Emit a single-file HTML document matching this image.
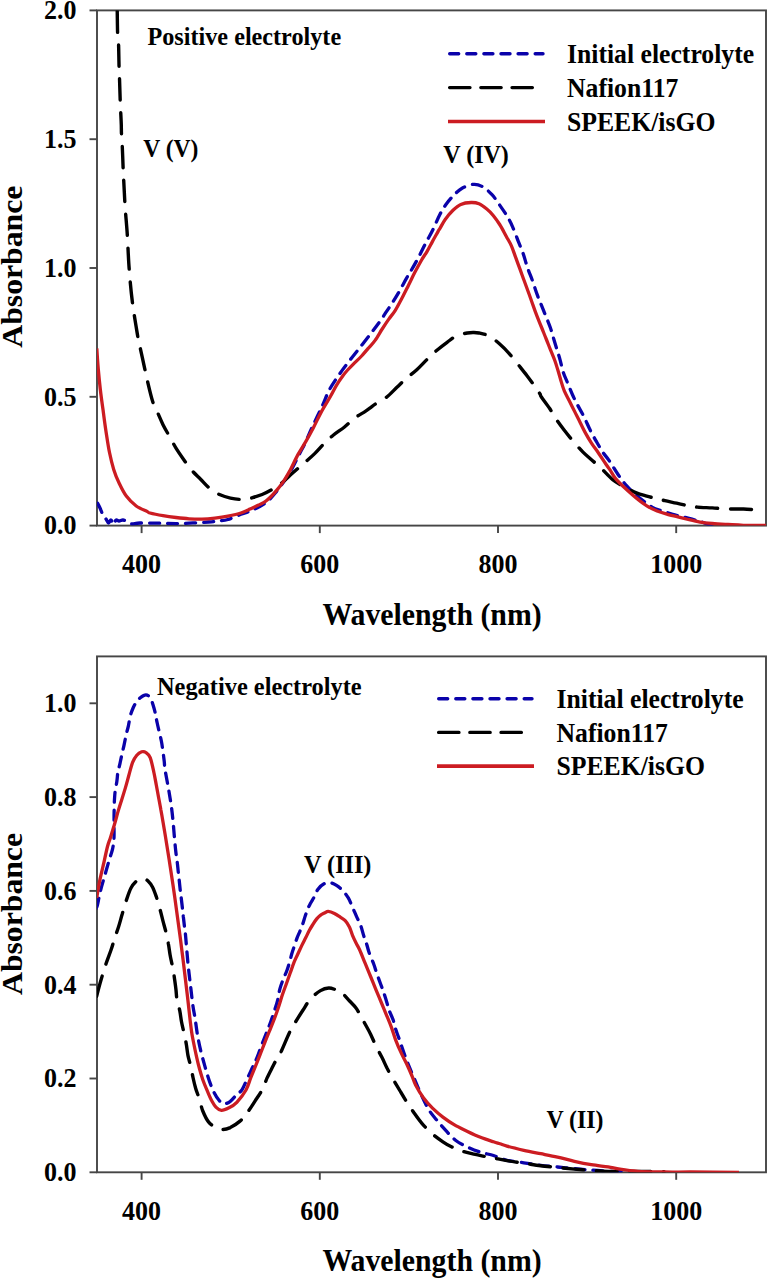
<!DOCTYPE html>
<html><head><meta charset="utf-8"><style>
html,body{margin:0;padding:0;background:#fff;}
svg{display:block;}
text{font-family:"Liberation Serif",serif;font-weight:bold;fill:#000;}
</style></head><body>
<svg width="770" height="1280" viewBox="0 0 770 1280">
<rect width="770" height="1280" fill="#fff"/>
<defs>
<clipPath id="ct"><rect x="97" y="10.4" width="669" height="515.2"/></clipPath>
<clipPath id="cb"><rect x="97" y="656.4" width="669" height="515.9"/></clipPath>
</defs>

<rect x="97" y="10.4" width="669" height="515.2" fill="none" stroke="#464646" stroke-width="1.9"/>
<line x1="89.5" x2="97" y1="525.6" y2="525.6" stroke="#464646" stroke-width="1.9"/>
<text transform="translate(76.5 534.4) scale(1 1.060)" font-size="26" text-anchor="end">0.0</text>
<line x1="89.5" x2="97" y1="396.8" y2="396.8" stroke="#464646" stroke-width="1.9"/>
<text transform="translate(76.5 405.6) scale(1 1.060)" font-size="26" text-anchor="end">0.5</text>
<line x1="89.5" x2="97" y1="268.0" y2="268.0" stroke="#464646" stroke-width="1.9"/>
<text transform="translate(76.5 276.8) scale(1 1.060)" font-size="26" text-anchor="end">1.0</text>
<line x1="89.5" x2="97" y1="139.2" y2="139.2" stroke="#464646" stroke-width="1.9"/>
<text transform="translate(76.5 148.0) scale(1 1.060)" font-size="26" text-anchor="end">1.5</text>
<line x1="89.5" x2="97" y1="10.4" y2="10.4" stroke="#464646" stroke-width="1.9"/>
<text transform="translate(76.5 19.2) scale(1 1.060)" font-size="26" text-anchor="end">2.0</text>
<line x1="141.6" x2="141.6" y1="525.6" y2="533.1" stroke="#464646" stroke-width="1.9"/>
<text transform="translate(141.6 573.0) scale(1 1.060)" font-size="26" text-anchor="middle">400</text>
<line x1="319.8" x2="319.8" y1="525.6" y2="533.1" stroke="#464646" stroke-width="1.9"/>
<text transform="translate(319.8 573.0) scale(1 1.060)" font-size="26" text-anchor="middle">600</text>
<line x1="498.0" x2="498.0" y1="525.6" y2="533.1" stroke="#464646" stroke-width="1.9"/>
<text transform="translate(498.0 573.0) scale(1 1.060)" font-size="26" text-anchor="middle">800</text>
<line x1="676.2" x2="676.2" y1="525.6" y2="533.1" stroke="#464646" stroke-width="1.9"/>
<text transform="translate(676.2 573.0) scale(1 1.060)" font-size="26" text-anchor="middle">1000</text>
<text transform="translate(432.0 625.0) scale(1 1.060)" font-size="29.8" text-anchor="middle">Wavelength (nm)</text>
<text transform="translate(22.3 266.7) rotate(-90)" font-size="29" text-anchor="middle" textLength="162" lengthAdjust="spacingAndGlyphs">Absorbance</text>
<rect x="97" y="656.4" width="669" height="515.9" fill="none" stroke="#464646" stroke-width="1.9"/>
<line x1="89.5" x2="97" y1="1172.3" y2="1172.3" stroke="#464646" stroke-width="1.9"/>
<text transform="translate(76.5 1181.1) scale(1 1.060)" font-size="26" text-anchor="end">0.0</text>
<line x1="89.5" x2="97" y1="1078.5" y2="1078.5" stroke="#464646" stroke-width="1.9"/>
<text transform="translate(76.5 1087.3) scale(1 1.060)" font-size="26" text-anchor="end">0.2</text>
<line x1="89.5" x2="97" y1="984.7" y2="984.7" stroke="#464646" stroke-width="1.9"/>
<text transform="translate(76.5 993.5) scale(1 1.060)" font-size="26" text-anchor="end">0.4</text>
<line x1="89.5" x2="97" y1="890.9" y2="890.9" stroke="#464646" stroke-width="1.9"/>
<text transform="translate(76.5 899.7) scale(1 1.060)" font-size="26" text-anchor="end">0.6</text>
<line x1="89.5" x2="97" y1="797.1" y2="797.1" stroke="#464646" stroke-width="1.9"/>
<text transform="translate(76.5 805.9) scale(1 1.060)" font-size="26" text-anchor="end">0.8</text>
<line x1="89.5" x2="97" y1="703.3" y2="703.3" stroke="#464646" stroke-width="1.9"/>
<text transform="translate(76.5 712.1) scale(1 1.060)" font-size="26" text-anchor="end">1.0</text>
<line x1="141.6" x2="141.6" y1="1172.3" y2="1179.8" stroke="#464646" stroke-width="1.9"/>
<text transform="translate(141.6 1220.3) scale(1 1.060)" font-size="26" text-anchor="middle">400</text>
<line x1="319.8" x2="319.8" y1="1172.3" y2="1179.8" stroke="#464646" stroke-width="1.9"/>
<text transform="translate(319.8 1220.3) scale(1 1.060)" font-size="26" text-anchor="middle">600</text>
<line x1="498.0" x2="498.0" y1="1172.3" y2="1179.8" stroke="#464646" stroke-width="1.9"/>
<text transform="translate(498.0 1220.3) scale(1 1.060)" font-size="26" text-anchor="middle">800</text>
<line x1="676.2" x2="676.2" y1="1172.3" y2="1179.8" stroke="#464646" stroke-width="1.9"/>
<text transform="translate(676.2 1220.3) scale(1 1.060)" font-size="26" text-anchor="middle">1000</text>
<text transform="translate(432.0 1271.0) scale(1 1.060)" font-size="29.8" text-anchor="middle">Wavelength (nm)</text>
<text transform="translate(22.3 914.0) rotate(-90)" font-size="29" text-anchor="middle" textLength="162" lengthAdjust="spacingAndGlyphs">Absorbance</text>
<line x1="449.7" x2="543.0" y1="53.7" y2="53.7" stroke="#0a02aa" stroke-width="3.4" stroke-linecap="round" stroke-dasharray="9 8.1"/>
<line x1="449.6" x2="532.4" y1="87.6" y2="87.6" stroke="#000000" stroke-width="3.3" stroke-linecap="round" stroke-dasharray="20.4 10.8"/>
<line x1="448.0" x2="545.0" y1="121.5" y2="121.5" stroke="#cc1c22" stroke-width="3.6"/>
<text transform="translate(567.0 62.8) scale(1 1.060)" font-size="25.7">Initial electrolyte</text>
<text transform="translate(567.0 96.7) scale(1 1.060)" font-size="25.7">Nafion117</text>
<text transform="translate(567.0 130.6) scale(1 1.060)" font-size="25.7">SPEEK/isGO</text>
<line x1="438.7" x2="532.0" y1="698.8" y2="698.8" stroke="#0a02aa" stroke-width="3.4" stroke-linecap="round" stroke-dasharray="9 8.1"/>
<line x1="438.6" x2="521.4" y1="732.4" y2="732.4" stroke="#000000" stroke-width="3.3" stroke-linecap="round" stroke-dasharray="20.4 10.8"/>
<line x1="437.0" x2="534.0" y1="766.1" y2="766.1" stroke="#cc1c22" stroke-width="3.6"/>
<text transform="translate(556.5 707.9) scale(1 1.060)" font-size="25.7">Initial electrolyte</text>
<text transform="translate(556.5 741.5) scale(1 1.060)" font-size="25.7">Nafion117</text>
<text transform="translate(556.5 775.2) scale(1 1.060)" font-size="25.7">SPEEK/isGO</text>
<text transform="translate(147.5 44.8) scale(1 1.060)" font-size="24.2">Positive electrolyte</text>
<text transform="translate(143.2 157.2) scale(1 1.060)" font-size="23.6">V (V)</text>
<text transform="translate(443.3 162.5) scale(1 1.060)" font-size="24">V (IV)</text>
<text transform="translate(157.0 695.2) scale(1 1.060)" font-size="24.4">Negative electrolyte</text>
<text transform="translate(304.0 872.5) scale(1 1.060)" font-size="24.2">V (III)</text>
<text transform="translate(546.4 1128.3) scale(1 1.060)" font-size="23.8">V (II)</text>
<path d="M97.6 503.2 C98.0 504.0 99.1 506.0 100.0 508.0 C100.9 510.0 102.0 513.2 103.0 515.0 C104.0 516.8 105.1 517.7 106.0 519.0 C106.9 520.3 107.7 522.8 108.5 523.0 C109.3 523.2 110.2 519.8 111.0 520.0 C111.8 520.2 112.7 524.5 113.5 524.5 C114.3 524.5 115.1 520.6 116.0 520.0 C116.9 519.4 117.8 521.0 119.0 521.0 C120.2 521.0 121.7 519.9 123.0 520.0 C124.3 520.1 125.5 520.8 127.0 521.5 C128.5 522.2 129.8 523.8 132.0 524.0 C134.2 524.2 135.3 523.1 140.0 523.0 C144.7 522.9 153.3 523.1 160.0 523.2 C166.7 523.3 171.9 523.7 180.0 523.5 C188.1 523.3 202.1 522.4 208.4 522.0 C214.7 521.6 214.8 521.4 218.0 521.0 C221.2 520.6 224.1 520.6 227.9 519.5 C231.7 518.4 236.9 515.8 240.9 514.3 C244.9 512.8 247.5 512.5 251.7 510.5 C255.9 508.5 261.9 505.6 266.0 502.5 C270.1 499.4 273.4 495.2 276.4 491.6 C279.4 488.0 281.6 484.8 284.2 481.0 C286.8 477.2 289.6 472.8 292.0 468.6 C294.4 464.4 296.2 460.2 298.4 456.0 C300.5 451.8 302.6 448.3 304.9 443.5 C307.2 438.7 309.3 433.4 312.3 427.0 C315.3 420.6 319.8 411.4 322.7 405.0 C325.6 398.6 326.7 394.5 330.0 388.6 C333.3 382.8 338.0 376.1 342.5 369.9 C347.0 363.7 352.1 357.4 357.0 351.2 C361.9 345.0 367.8 337.5 371.6 332.5 C375.4 327.5 377.5 324.8 380.0 321.3 C382.5 317.8 384.4 314.7 386.6 311.4 C388.8 308.1 390.9 305.1 393.1 301.6 C395.3 298.2 397.5 294.5 399.7 290.7 C401.9 286.9 404.1 282.4 406.3 278.6 C408.5 274.8 410.6 271.5 412.8 267.7 C415.0 263.9 417.2 259.8 419.4 255.6 C421.6 251.4 423.8 246.7 426.0 242.5 C428.2 238.3 430.2 235.2 432.5 230.5 C434.8 225.8 437.7 218.6 440.0 214.2 C442.3 209.8 444.1 207.1 446.5 203.8 C448.9 200.6 451.7 197.3 454.3 194.7 C456.9 192.1 458.9 189.9 462.1 188.2 C465.4 186.5 470.3 184.5 473.8 184.3 C477.3 184.1 479.9 185.2 482.9 186.9 C485.9 188.6 489.2 191.7 492.0 194.7 C494.8 197.7 497.1 201.4 499.7 205.1 C502.3 208.8 505.3 213.1 507.5 216.8 C509.7 220.5 510.9 222.9 512.7 227.1 C514.6 231.3 516.9 237.9 518.6 242.2 C520.3 246.5 521.5 248.9 523.0 253.1 C524.5 257.3 525.8 262.6 527.4 267.4 C529.0 272.1 531.2 277.1 532.8 281.6 C534.4 286.2 535.7 290.7 537.2 294.7 C538.7 298.7 540.1 302.0 541.6 305.6 C543.1 309.2 544.5 313.0 546.0 316.6 C547.5 320.2 549.0 323.9 550.3 327.5 C551.6 331.1 552.5 334.9 553.6 338.5 C554.7 342.1 555.8 345.8 556.9 349.4 C558.0 353.0 559.2 356.5 560.2 360.3 C561.2 364.1 562.0 368.4 563.2 372.1 C564.4 375.8 565.8 378.7 567.4 382.5 C569.0 386.3 570.9 391.2 572.6 395.0 C574.3 398.8 575.9 401.8 577.8 405.4 C579.7 409.0 581.9 412.6 584.0 416.8 C586.1 421.0 588.2 426.2 590.3 430.3 C592.4 434.4 594.4 438.1 596.5 441.7 C598.6 445.3 600.6 449.0 602.7 452.1 C604.8 455.2 606.4 456.6 609.0 460.4 C611.6 464.2 615.4 470.6 618.2 474.7 C621.0 478.8 623.4 482.1 626.0 485.1 C628.6 488.1 631.0 490.3 633.8 492.9 C636.6 495.5 639.9 498.2 642.9 500.6 C645.9 503.0 648.8 505.4 652.0 507.1 C655.2 508.8 658.8 509.8 662.3 511.0 C665.8 512.2 669.2 513.3 672.7 514.3 C676.2 515.3 678.6 515.7 683.1 516.9 C687.6 518.1 695.1 519.9 700.0 521.4 C704.9 522.9 710.2 525.3 712.3 526.1" fill="none" stroke="#0a02aa" stroke-width="3.3" stroke-linejoin="round" stroke-linecap="round" clip-path="url(#ct)" stroke-dasharray="10 8" stroke-dashoffset="0"/>
<path d="M117.2 9.7 C117.3 13.6 117.4 27.2 117.6 33.1 C117.8 39.0 118.3 39.5 118.6 45.3 C118.8 51.1 118.9 62.3 119.1 67.8 C119.2 73.3 119.3 72.6 119.5 78.1 C119.7 83.6 120.0 95.0 120.2 100.6 C120.4 106.2 120.5 107.7 120.7 111.8 C120.9 115.9 121.2 121.3 121.3 125.0 C121.4 128.7 121.3 130.8 121.5 134.1 C121.7 137.4 121.9 139.2 122.2 144.8 C122.5 150.4 122.9 162.2 123.1 167.8 C123.3 173.4 123.3 172.5 123.6 178.1 C123.9 183.7 124.5 195.9 124.8 201.5 C125.1 207.1 125.1 206.2 125.5 211.8 C125.9 217.4 126.7 225.3 127.3 234.8 C127.9 244.3 128.3 257.8 129.2 269.0 C130.0 280.2 131.0 291.1 132.4 302.2 C133.8 313.3 136.4 328.3 137.6 335.5 C138.8 342.7 138.5 340.2 139.7 345.6 C140.9 351.0 143.3 362.2 144.6 368.1 C145.9 374.0 146.1 375.3 147.4 380.8 C148.7 386.3 150.9 395.9 152.6 401.3 C154.3 406.7 156.1 409.1 157.8 413.0 C159.5 416.9 161.1 420.8 163.0 424.7 C164.9 428.6 167.3 432.5 169.5 436.4 C171.7 440.3 173.6 444.2 176.0 448.1 C178.4 452.0 181.2 456.0 183.8 459.7 C186.4 463.4 188.8 466.9 191.6 470.1 C194.4 473.4 197.6 476.2 200.6 479.2 C203.6 482.2 206.4 485.7 209.7 488.3 C212.9 490.9 216.6 493.2 220.1 494.8 C223.6 496.4 227.0 497.3 230.5 498.1 C234.0 498.9 237.7 499.4 240.9 499.4 C244.2 499.4 248.2 498.4 250.0 498.1 C251.8 497.9 249.7 498.5 251.7 497.9 C253.7 497.3 258.9 495.8 262.1 494.5 C265.4 493.2 268.2 491.7 271.2 490.0 C274.2 488.3 276.7 487.0 280.3 484.2 C283.9 481.4 288.8 476.5 292.6 473.1 C296.4 469.7 299.3 467.2 303.0 464.0 C306.7 460.8 311.2 457.0 314.7 453.6 C318.2 450.2 320.8 446.9 323.8 443.9 C326.8 440.9 329.4 438.3 332.9 435.5 C336.3 432.7 340.8 429.9 344.5 427.0 C348.2 424.1 351.4 420.5 354.9 417.9 C358.4 415.3 362.6 413.2 365.3 411.4 C368.0 409.6 369.4 408.5 371.2 407.2 C372.9 405.9 373.3 405.3 375.8 403.7 C378.3 402.1 382.9 400.0 386.4 397.3 C389.9 394.6 393.6 390.4 396.9 387.3 C400.2 384.2 402.9 381.4 406.2 378.5 C409.5 375.6 413.3 373.0 416.8 369.8 C420.3 366.6 424.0 362.4 427.3 359.2 C430.6 356.0 433.3 353.3 436.6 350.5 C439.9 347.7 443.7 344.8 447.1 342.3 C450.5 339.8 453.5 337.2 456.9 335.6 C460.3 334.1 464.6 333.5 467.3 333.0 C470.0 332.5 471.1 332.5 473.0 332.5 C474.9 332.5 476.3 332.4 479.0 333.0 C481.7 333.6 485.9 334.4 489.4 336.2 C492.8 338.0 496.5 341.2 499.7 344.0 C502.9 346.8 505.8 349.7 508.8 353.1 C511.8 356.5 514.9 360.4 517.9 364.2 C520.9 368.0 524.2 372.1 527.0 375.8 C529.8 379.5 532.6 383.2 534.8 386.2 C537.0 389.2 538.9 392.2 540.0 394.0 C541.1 395.8 539.8 394.6 541.4 397.0 C543.0 399.4 547.3 404.9 549.7 408.5 C552.1 412.1 553.6 415.3 556.0 418.9 C558.4 422.5 561.4 426.5 564.3 430.3 C567.2 434.1 570.5 438.1 573.6 441.7 C576.7 445.3 579.9 449.0 583.0 452.1 C586.1 455.2 589.2 457.6 592.3 460.4 C595.4 463.2 598.2 465.6 601.7 468.8 C605.2 472.1 609.0 476.8 613.0 479.9 C617.0 483.0 622.1 485.5 626.0 487.7 C629.9 489.9 632.9 491.5 636.4 492.9 C639.9 494.3 643.3 495.1 646.8 496.1 C650.2 497.1 654.1 497.9 657.1 498.7 C660.1 499.4 661.6 499.9 664.9 500.6 C668.1 501.4 672.7 502.3 676.6 503.2 C680.5 504.1 684.8 505.1 688.3 505.8 C691.8 506.5 693.4 506.8 697.4 507.1 C701.4 507.5 707.2 507.6 712.3 507.9 C717.4 508.2 722.7 508.8 727.9 509.0 C733.1 509.2 738.0 508.8 743.5 509.0 C749.0 509.2 757.8 510.0 760.6 510.2" fill="none" stroke="#000000" stroke-width="3.4" stroke-linejoin="round" stroke-linecap="round" clip-path="url(#ct)" stroke-dasharray="21 12.9" stroke-dashoffset="-1.5"/>
<path d="M96.8 348.4 C97.0 351.7 97.6 361.3 98.2 368.1 C98.8 374.9 99.5 382.2 100.3 389.2 C101.1 396.2 102.1 403.3 103.1 410.3 C104.0 417.3 104.9 424.4 106.0 431.4 C107.1 438.4 108.2 446.2 109.5 452.5 C110.8 458.8 112.1 464.2 113.7 469.4 C115.3 474.6 117.2 479.1 119.3 483.5 C121.4 487.9 123.5 492.4 126.3 496.1 C129.1 499.9 132.7 503.4 136.2 506.0 C139.7 508.6 145.1 510.4 147.4 511.6 C149.7 512.8 147.4 512.3 150.0 513.0 C152.6 513.7 158.7 514.9 163.0 515.6 C167.3 516.4 171.7 517.0 176.0 517.5 C180.3 518.0 184.7 518.5 189.0 518.8 C193.3 519.1 197.7 519.3 202.0 519.2 C206.3 519.1 210.6 518.7 214.9 518.2 C219.2 517.7 223.6 517.1 227.9 516.2 C232.2 515.3 237.2 514.2 240.9 513.0 C244.6 511.8 247.2 510.4 250.0 509.1 C252.8 507.8 255.3 506.7 258.0 505.3 C260.7 503.9 262.9 503.4 266.0 501.0 C269.1 498.6 273.4 494.1 276.4 490.6 C279.4 487.2 281.9 483.7 284.2 480.3 C286.5 476.9 287.7 474.7 290.0 470.5 C292.3 466.3 295.2 459.7 297.8 454.9 C300.4 450.1 303.0 446.4 305.6 441.9 C308.2 437.4 310.8 432.7 313.4 427.7 C316.0 422.7 318.4 417.3 321.2 412.1 C324.0 406.9 327.8 401.0 330.4 396.5 C333.0 392.0 334.5 388.6 336.6 385.1 C338.7 381.6 341.0 378.3 342.9 375.7 C344.8 373.1 346.2 371.6 348.1 369.5 C350.0 367.4 352.1 365.4 354.3 363.2 C356.6 360.9 359.2 358.6 361.6 356.0 C364.0 353.4 366.6 350.3 368.8 347.7 C371.1 345.1 372.9 343.5 375.1 340.4 C377.3 337.3 379.9 332.6 382.2 329.0 C384.5 325.4 386.6 322.2 388.8 319.1 C391.0 316.0 393.1 313.9 395.3 310.4 C397.5 306.9 399.7 302.5 401.9 298.3 C404.1 294.1 406.3 289.6 408.5 285.2 C410.7 280.8 412.8 276.3 415.0 272.1 C417.2 267.9 419.6 263.5 421.6 260.0 C423.6 256.5 425.3 254.4 427.1 251.3 C428.9 248.2 430.7 244.7 432.5 241.4 C434.3 238.1 436.8 233.8 438.0 231.6 C439.2 229.4 438.8 230.4 440.0 228.4 C441.2 226.4 443.0 222.4 445.2 219.4 C447.4 216.4 450.4 212.8 453.0 210.3 C455.6 207.8 457.8 205.7 460.8 204.4 C463.8 203.1 468.2 202.6 471.2 202.5 C474.2 202.4 476.4 202.7 479.0 203.8 C481.6 204.9 484.4 207.1 486.8 209.0 C489.2 210.9 491.1 212.9 493.2 215.5 C495.3 218.1 497.5 221.1 499.7 224.5 C501.9 227.9 504.2 232.6 506.2 236.2 C508.1 239.8 509.9 242.4 511.4 245.8 C512.9 249.2 513.9 252.6 515.3 256.4 C516.7 260.2 518.2 264.4 519.7 268.4 C521.2 272.4 522.6 276.5 524.1 280.5 C525.6 284.5 527.0 288.5 528.5 292.5 C530.0 296.5 531.3 300.6 532.8 304.6 C534.2 308.6 535.7 312.8 537.2 316.6 C538.7 320.4 540.1 323.9 541.6 327.5 C543.1 331.1 544.5 334.9 546.0 338.5 C547.5 342.1 548.8 345.7 550.3 349.4 C551.8 353.1 553.5 357.0 554.8 360.5 C556.1 364.0 557.0 367.3 558.0 370.6 C559.0 373.9 559.8 376.8 560.8 380.2 C561.8 383.6 562.8 387.3 564.3 390.8 C565.8 394.3 567.8 397.7 569.5 401.2 C571.2 404.7 573.0 408.1 574.7 411.6 C576.4 415.1 578.2 418.5 579.9 422.0 C581.6 425.5 583.2 428.9 585.1 432.4 C587.0 435.9 589.0 439.3 591.3 442.8 C593.5 446.3 596.2 449.7 598.6 453.2 C601.0 456.7 603.9 461.2 605.8 464.0 C607.7 466.8 608.6 467.8 610.2 470.2 C611.8 472.6 613.0 475.5 615.6 478.6 C618.2 481.7 622.5 485.8 626.0 489.0 C629.5 492.2 632.9 495.3 636.4 498.1 C639.9 500.9 643.3 503.7 646.8 505.8 C650.2 507.9 653.6 509.6 657.1 511.0 C660.6 512.4 664.0 513.3 667.5 514.3 C671.0 515.3 674.4 516.0 677.9 516.9 C681.4 517.8 684.6 518.6 688.3 519.5 C692.0 520.4 696.0 521.4 700.0 522.1 C704.0 522.8 707.6 523.1 712.3 523.5 C716.9 523.9 722.7 524.2 727.9 524.5 C733.1 524.8 737.1 525.2 743.5 525.3 C749.9 525.4 762.2 525.3 766.0 525.3" fill="none" stroke="#cc1c22" stroke-width="3.3" stroke-linejoin="round" clip-path="url(#ct)"/>
<path d="M96.6 908.0 C96.7 907.6 96.6 908.7 97.3 905.7 C98.0 902.8 99.3 895.4 100.6 890.3 C101.9 885.2 103.5 880.1 104.9 875.0 C106.4 869.9 108.0 864.1 109.3 859.7 C110.6 855.3 111.8 852.4 112.6 848.8 C113.4 845.2 113.8 842.0 114.0 838.0 C114.2 834.0 114.0 828.9 114.0 824.7 C114.1 820.5 114.0 816.7 114.1 812.7 C114.2 808.7 114.2 804.3 114.4 800.8 C114.6 797.3 114.7 794.9 115.1 791.6 C115.5 788.3 116.5 784.2 116.9 781.1 C117.4 778.0 117.3 775.8 117.8 772.9 C118.3 770.0 119.2 767.0 119.9 763.8 C120.6 760.6 121.3 757.1 122.0 753.9 C122.7 750.7 123.4 748.1 124.1 744.8 C124.8 741.5 125.6 737.4 126.3 734.2 C127.0 731.0 127.7 729.0 128.4 725.8 C129.1 722.6 129.7 718.2 130.5 715.2 C131.3 712.2 132.4 709.6 133.3 707.5 C134.2 705.4 134.9 704.2 136.1 702.6 C137.3 701.0 138.7 699.0 140.3 697.7 C141.9 696.4 144.2 694.8 145.9 694.8 C147.6 694.8 149.0 696.1 150.2 697.7 C151.4 699.4 152.2 702.2 153.0 704.7 C153.8 707.2 154.4 709.4 155.1 712.4 C155.8 715.4 156.1 718.2 157.2 723.0 C158.2 727.8 160.5 736.7 161.4 741.3 C162.3 745.9 162.3 747.1 162.8 750.4 C163.3 753.7 163.8 757.8 164.2 761.0 C164.6 764.2 164.3 764.8 165.0 769.4 C165.7 774.0 167.5 782.8 168.5 788.7 C169.5 794.6 170.3 799.1 171.1 804.6 C171.9 810.1 172.5 815.7 173.1 821.9 C173.7 828.1 174.3 836.4 174.8 841.6 C175.3 846.8 175.6 849.9 176.0 853.3 C176.4 856.7 176.8 859.0 177.2 862.0 C177.6 865.0 177.9 868.4 178.2 871.3 C178.5 874.1 178.8 875.9 179.1 879.1 C179.4 882.4 180.0 887.8 180.3 890.8 C180.6 893.8 180.7 894.0 181.1 897.0 C181.5 900.0 182.1 905.5 182.5 908.8 C182.9 912.0 183.0 913.4 183.3 916.5 C183.7 919.6 184.2 924.6 184.6 927.5 C184.9 930.4 184.8 927.6 185.4 933.8 C186.0 940.0 187.2 955.8 188.1 964.8 C189.0 973.8 190.0 981.1 190.8 988.0 C191.6 994.9 192.3 1001.3 193.0 1006.4 C193.7 1011.5 194.4 1013.8 195.1 1018.4 C195.8 1023.0 196.4 1028.5 197.3 1033.8 C198.2 1039.1 199.3 1044.7 200.6 1050.2 C201.9 1055.7 203.6 1061.5 205.0 1066.6 C206.4 1071.7 207.9 1076.6 209.3 1080.8 C210.8 1085.0 212.0 1088.4 213.7 1091.7 C215.3 1095.0 217.5 1098.5 219.2 1100.5 C220.8 1102.5 221.8 1103.6 223.6 1103.8 C225.4 1104.0 227.8 1103.1 230.0 1101.6 C232.2 1100.0 234.8 1096.5 236.8 1094.5 C238.8 1092.5 240.3 1092.4 242.1 1089.6 C243.9 1086.8 245.9 1081.5 247.6 1077.9 C249.3 1074.3 250.7 1071.2 252.3 1067.8 C253.9 1064.4 255.4 1061.5 257.0 1057.7 C258.6 1053.9 259.9 1049.6 261.6 1045.2 C263.3 1040.8 265.5 1035.2 267.1 1031.2 C268.7 1027.2 269.7 1024.6 271.0 1021.0 C272.3 1017.4 273.8 1012.9 274.9 1009.4 C276.0 1005.9 276.8 1003.7 277.6 1000.3 C278.4 996.9 279.0 992.3 279.9 988.9 C280.8 985.5 281.9 982.7 283.1 979.6 C284.3 976.5 285.8 973.5 287.0 970.2 C288.2 967.0 289.3 962.9 290.1 960.1 C290.9 957.4 291.1 956.1 291.8 953.7 C292.5 951.3 293.5 948.5 294.4 945.9 C295.3 943.3 296.1 940.6 297.0 938.1 C297.9 935.6 299.2 933.1 300.1 930.8 C301.1 928.5 301.8 926.6 302.7 924.1 C303.6 921.6 304.4 918.4 305.3 915.8 C306.2 913.2 307.0 910.6 307.9 908.5 C308.8 906.4 309.5 905.2 310.5 903.3 C311.5 901.4 312.9 899.4 314.1 897.1 C315.3 894.8 316.2 891.7 317.8 889.5 C319.4 887.3 321.9 884.9 324.0 883.8 C326.1 882.7 328.2 882.5 330.3 882.8 C332.4 883.1 334.4 884.1 336.5 885.4 C338.6 886.7 340.9 888.7 342.9 890.8 C344.9 892.9 346.7 895.2 348.3 897.9 C349.9 900.6 351.1 904.1 352.5 907.2 C353.9 910.3 355.2 913.5 356.6 916.6 C358.0 919.7 359.6 922.6 360.8 925.9 C362.0 929.2 362.9 933.2 363.9 936.3 C364.9 939.4 365.9 941.9 366.8 944.6 C367.7 947.3 367.9 949.1 369.0 952.3 C370.1 955.5 372.4 960.5 373.7 964.0 C375.0 967.5 375.6 970.0 376.8 973.4 C378.0 976.8 379.5 981.0 380.7 984.3 C381.9 987.5 382.8 989.8 383.8 992.9 C384.9 996.0 386.1 1000.0 387.0 1003.0 C387.9 1006.0 388.3 1007.9 389.3 1010.8 C390.3 1013.6 392.2 1017.1 393.2 1020.1 C394.2 1023.1 394.5 1025.5 395.5 1028.7 C396.5 1032.0 397.6 1034.4 399.4 1039.6 C401.2 1044.8 404.2 1054.0 406.5 1060.0 C408.8 1066.0 410.6 1070.0 413.0 1075.6 C415.4 1081.2 418.2 1088.2 420.8 1093.8 C423.4 1099.4 426.0 1105.1 428.6 1109.4 C431.2 1113.7 433.6 1116.2 436.4 1119.7 C439.2 1123.2 442.3 1126.6 445.5 1130.1 C448.7 1133.6 452.1 1137.7 455.8 1140.5 C459.5 1143.3 463.4 1145.0 467.5 1147.0 C471.6 1149.0 476.2 1150.8 480.5 1152.2 C484.8 1153.6 489.1 1154.2 493.5 1155.5 C497.9 1156.8 501.8 1159.1 506.9 1160.3 C511.9 1161.5 518.2 1162.0 523.8 1162.8 C529.4 1163.6 535.1 1164.6 540.7 1165.3 C546.3 1166.0 551.9 1166.4 557.5 1167.0 C563.1 1167.6 568.8 1168.2 574.4 1168.7 C580.0 1169.2 585.7 1169.6 591.3 1170.0 C596.9 1170.4 603.1 1170.9 608.2 1171.2 C613.3 1171.5 619.7 1171.6 622.0 1171.7 C624.3 1171.8 622.0 1172.0 622.0 1172.0" fill="none" stroke="#0a02aa" stroke-width="3.3" stroke-linejoin="round" stroke-linecap="round" clip-path="url(#cb)" stroke-dasharray="10 8" stroke-dashoffset="0"/>
<path d="M96.6 996.3 C97.3 993.6 99.4 985.4 101.0 980.0 C102.6 974.6 104.3 968.8 106.0 963.8 C107.7 958.8 109.5 954.3 111.0 950.0 C112.5 945.7 113.5 941.8 114.8 938.0 C116.0 934.2 117.2 931.0 118.5 927.0 C119.8 923.0 121.0 918.1 122.3 913.8 C123.5 909.5 124.5 905.6 126.0 901.3 C127.5 897.0 129.1 891.5 131.0 888.0 C132.9 884.5 135.2 882.0 137.3 880.5 C139.4 879.0 141.7 878.7 143.5 878.8 C145.3 878.9 146.5 879.6 148.0 881.0 C149.5 882.4 151.2 884.5 152.6 887.2 C154.0 889.9 155.1 893.2 156.4 897.0 C157.7 900.8 159.1 906.1 160.2 910.1 C161.3 914.1 162.0 917.3 163.0 921.1 C164.0 924.9 165.3 929.3 166.2 933.1 C167.1 936.9 167.8 940.4 168.4 944.0 C169.1 947.6 169.4 951.0 170.1 955.0 C170.8 959.0 172.1 964.3 172.8 968.1 C173.5 971.9 173.9 974.2 174.4 977.9 C174.9 981.5 175.6 986.2 176.0 990.0 C176.4 993.8 176.5 997.4 177.1 1000.9 C177.7 1004.4 179.1 1007.3 179.8 1010.8 C180.5 1014.3 180.8 1017.9 181.5 1021.7 C182.2 1025.5 183.4 1030.0 184.2 1033.8 C185.0 1037.6 185.8 1041.1 186.4 1044.7 C187.0 1048.3 187.3 1051.9 188.0 1055.6 C188.7 1059.2 190.0 1062.9 190.8 1066.6 C191.6 1070.2 192.2 1073.8 193.0 1077.5 C193.8 1081.2 194.7 1085.0 195.7 1088.5 C196.7 1092.0 198.0 1094.8 199.2 1098.5 C200.4 1102.2 201.2 1107.1 202.8 1111.0 C204.4 1114.9 206.3 1119.1 208.5 1121.9 C210.7 1124.7 213.4 1126.3 215.8 1127.6 C218.2 1128.9 220.7 1129.5 223.1 1129.5 C225.5 1129.5 227.5 1128.9 230.3 1127.6 C233.1 1126.2 236.9 1123.8 239.7 1121.4 C242.5 1119.0 244.4 1116.6 247.0 1113.1 C249.6 1109.6 252.7 1104.6 255.3 1100.6 C257.9 1096.6 260.5 1093.0 262.5 1089.2 C264.5 1085.4 265.3 1081.9 267.1 1077.9 C268.9 1074.0 271.4 1069.3 273.3 1065.5 C275.2 1061.7 277.5 1057.6 278.8 1055.3 C280.1 1053.0 279.2 1055.7 281.0 1051.9 C282.8 1048.1 287.0 1037.7 289.4 1032.7 C291.8 1027.7 293.4 1025.5 295.6 1021.8 C297.9 1018.1 300.5 1014.0 302.9 1010.3 C305.3 1006.6 307.2 1002.7 310.1 999.4 C313.0 996.1 317.4 992.5 320.5 990.6 C323.6 988.7 326.2 988.1 328.8 988.0 C331.4 987.9 334.0 989.2 336.1 989.9 C338.2 990.6 339.1 990.4 341.3 992.2 C343.6 994.1 347.2 998.4 349.6 1001.0 C352.0 1003.6 354.0 1005.3 355.8 1007.7 C357.6 1010.1 358.9 1012.8 360.5 1015.5 C362.1 1018.2 363.4 1020.9 365.1 1024.0 C366.8 1027.1 368.8 1030.5 370.6 1034.2 C372.4 1037.9 374.1 1042.4 376.0 1046.2 C377.9 1050.0 380.0 1053.6 381.9 1057.3 C383.8 1061.0 385.2 1064.5 387.1 1068.3 C389.1 1072.1 391.4 1076.2 393.6 1080.0 C395.8 1083.8 398.0 1087.4 400.1 1091.0 C402.2 1094.6 404.1 1097.9 406.5 1101.6 C408.9 1105.3 411.7 1109.5 414.3 1113.2 C416.9 1116.9 419.1 1120.1 422.1 1123.6 C425.1 1127.1 429.0 1131.0 432.5 1134.0 C436.0 1137.0 439.7 1139.6 442.9 1141.8 C446.1 1144.0 448.4 1145.4 451.9 1147.0 C455.3 1148.6 459.9 1150.4 463.6 1151.6 C467.3 1152.8 470.8 1153.5 474.0 1154.2 C477.2 1155.0 479.9 1155.5 483.1 1156.1 C486.3 1156.7 489.4 1157.1 493.4 1157.9 C497.4 1158.7 501.8 1159.8 506.9 1160.7 C512.0 1161.6 518.2 1162.4 523.8 1163.2 C529.4 1164.0 535.1 1165.0 540.7 1165.7 C546.3 1166.4 551.9 1166.8 557.5 1167.4 C563.1 1168.0 568.8 1168.6 574.4 1169.1 C580.0 1169.6 585.7 1170.0 591.3 1170.4 C596.9 1170.8 600.3 1171.2 608.2 1171.4 C616.1 1171.6 629.3 1171.3 638.6 1171.4 C647.9 1171.5 659.8 1171.7 664.0 1171.8" fill="none" stroke="#000000" stroke-width="3.4" stroke-linejoin="round" stroke-linecap="round" clip-path="url(#cb)" stroke-dasharray="20.9 12.6" stroke-dashoffset="0"/>
<path d="M96.7 898.0 C97.2 894.9 98.8 885.2 100.0 879.4 C101.2 873.6 102.5 868.5 103.8 863.0 C105.0 857.5 106.4 850.8 107.5 846.5 C108.6 842.2 109.3 841.3 110.5 837.4 C111.7 833.5 113.5 827.8 114.8 823.3 C116.1 818.8 117.1 814.6 118.3 810.6 C119.5 806.6 120.6 803.1 121.8 799.4 C123.0 795.6 124.1 792.1 125.3 788.1 C126.5 784.1 127.6 779.8 128.8 775.5 C130.0 771.2 131.3 765.8 132.6 762.4 C133.9 759.0 135.3 757.1 136.8 755.3 C138.3 753.5 140.2 752.3 141.7 751.8 C143.2 751.3 144.5 751.5 145.9 752.5 C147.3 753.5 148.9 754.3 150.2 757.6 C151.5 760.9 152.9 767.9 153.9 772.5 C154.9 777.1 155.5 780.8 156.3 785.0 C157.1 789.2 157.8 793.3 158.6 797.5 C159.4 801.7 160.2 805.8 160.9 810.0 C161.7 814.2 162.4 818.3 163.1 822.5 C163.8 826.7 164.5 830.8 165.2 835.0 C165.9 839.2 166.5 843.3 167.2 847.5 C167.9 851.7 168.5 855.8 169.2 860.0 C169.8 864.2 170.5 868.3 171.1 872.5 C171.7 876.7 172.4 880.8 173.0 885.0 C173.6 889.2 174.2 893.3 174.8 897.5 C175.4 901.7 175.9 905.8 176.5 910.0 C177.1 914.2 177.6 918.3 178.2 922.5 C178.8 926.7 179.3 930.8 179.9 935.0 C180.5 939.2 181.0 943.3 181.5 947.5 C182.0 951.7 182.6 955.8 183.1 960.0 C183.6 964.2 184.1 968.3 184.6 972.5 C185.1 976.7 185.6 980.8 186.1 985.0 C186.6 989.2 187.1 993.3 187.6 997.5 C188.1 1001.7 188.5 1005.8 189.0 1010.0 C189.5 1014.2 189.9 1018.5 190.4 1022.5 C190.9 1026.5 191.3 1030.1 191.9 1033.8 C192.5 1037.5 193.2 1040.7 194.0 1044.7 C194.8 1048.7 195.9 1053.8 196.8 1057.8 C197.7 1061.8 198.5 1065.1 199.5 1068.8 C200.5 1072.5 201.5 1076.0 202.8 1079.7 C204.1 1083.4 205.7 1087.2 207.2 1090.7 C208.7 1094.2 210.1 1097.8 211.6 1100.5 C213.1 1103.2 214.3 1105.5 215.9 1107.1 C217.5 1108.7 219.2 1110.2 221.4 1110.3 C223.6 1110.4 226.4 1109.1 229.0 1107.8 C231.6 1106.5 234.0 1105.3 236.8 1102.3 C239.6 1099.3 243.7 1094.1 246.0 1090.0 C248.3 1085.9 249.1 1081.9 250.7 1077.9 C252.3 1074.0 253.8 1070.2 255.4 1066.3 C257.0 1062.4 258.6 1058.5 260.1 1054.6 C261.7 1050.7 263.1 1046.8 264.7 1042.9 C266.2 1039.0 267.8 1035.1 269.4 1031.2 C271.0 1027.3 272.6 1023.5 274.1 1019.5 C275.6 1015.5 277.0 1011.6 278.4 1007.5 C279.8 1003.4 281.0 999.0 282.3 995.1 C283.6 991.2 284.9 987.8 286.2 984.2 C287.5 980.6 288.8 976.9 290.1 973.3 C291.4 969.7 292.8 965.5 294.0 962.4 C295.2 959.3 296.2 957.5 297.5 954.7 C298.8 952.0 300.2 948.8 301.6 945.9 C303.0 943.0 304.5 940.2 305.8 937.6 C307.1 935.0 308.2 932.5 309.4 930.3 C310.6 928.0 311.9 926.0 313.1 924.1 C314.3 922.2 315.5 920.4 316.7 918.9 C317.9 917.4 318.9 916.3 320.3 915.3 C321.7 914.3 323.7 913.4 325.0 912.7 C326.3 912.1 326.6 911.3 328.2 911.4 C329.8 911.5 332.4 912.4 334.4 913.4 C336.4 914.4 338.5 916.0 340.3 917.2 C342.1 918.4 343.7 919.1 345.2 920.7 C346.7 922.3 348.2 924.6 349.4 927.0 C350.6 929.4 351.4 932.6 352.5 935.3 C353.6 938.0 355.0 940.8 356.2 943.2 C357.4 945.7 358.2 946.7 359.7 950.0 C361.2 953.3 363.3 958.8 365.1 963.2 C366.9 967.6 368.8 972.1 370.6 976.5 C372.4 980.9 374.2 985.4 376.0 989.8 C377.8 994.2 379.7 998.6 381.5 1003.0 C383.3 1007.4 385.3 1012.1 387.0 1016.3 C388.7 1020.4 390.2 1024.0 391.6 1027.9 C393.0 1031.8 393.9 1035.3 395.5 1039.6 C397.1 1043.8 399.5 1049.4 401.4 1053.4 C403.2 1057.4 404.9 1060.1 406.6 1063.8 C408.3 1067.5 410.3 1072.0 411.8 1075.5 C413.3 1079.0 413.7 1081.3 415.6 1085.0 C417.5 1088.7 420.6 1093.9 423.4 1097.7 C426.2 1101.5 429.2 1104.9 432.5 1108.1 C435.8 1111.3 439.2 1114.3 442.9 1117.1 C446.6 1119.9 450.4 1122.5 454.5 1124.9 C458.6 1127.3 463.2 1129.3 467.5 1131.4 C471.8 1133.5 476.2 1135.6 480.5 1137.3 C484.8 1139.0 490.2 1140.7 493.5 1141.8 C496.8 1142.9 497.8 1143.1 500.0 1143.8 C502.2 1144.5 502.9 1145.0 506.9 1146.1 C510.9 1147.2 518.2 1149.0 523.8 1150.3 C529.4 1151.6 535.1 1152.6 540.7 1153.7 C546.3 1154.8 551.9 1155.8 557.5 1157.1 C563.1 1158.4 568.8 1160.0 574.4 1161.3 C580.0 1162.6 585.7 1163.8 591.3 1164.7 C596.9 1165.6 603.4 1166.2 608.2 1166.9 C613.0 1167.7 615.0 1168.5 620.0 1169.2 C625.0 1170.0 630.7 1170.9 638.0 1171.4 C645.3 1171.9 655.3 1171.9 664.0 1172.0 C672.7 1172.1 677.5 1172.0 690.0 1172.0 C702.5 1172.0 730.8 1172.2 739.0 1172.3" fill="none" stroke="#cc1c22" stroke-width="3.3" stroke-linejoin="round" clip-path="url(#cb)"/>
</svg></body></html>
